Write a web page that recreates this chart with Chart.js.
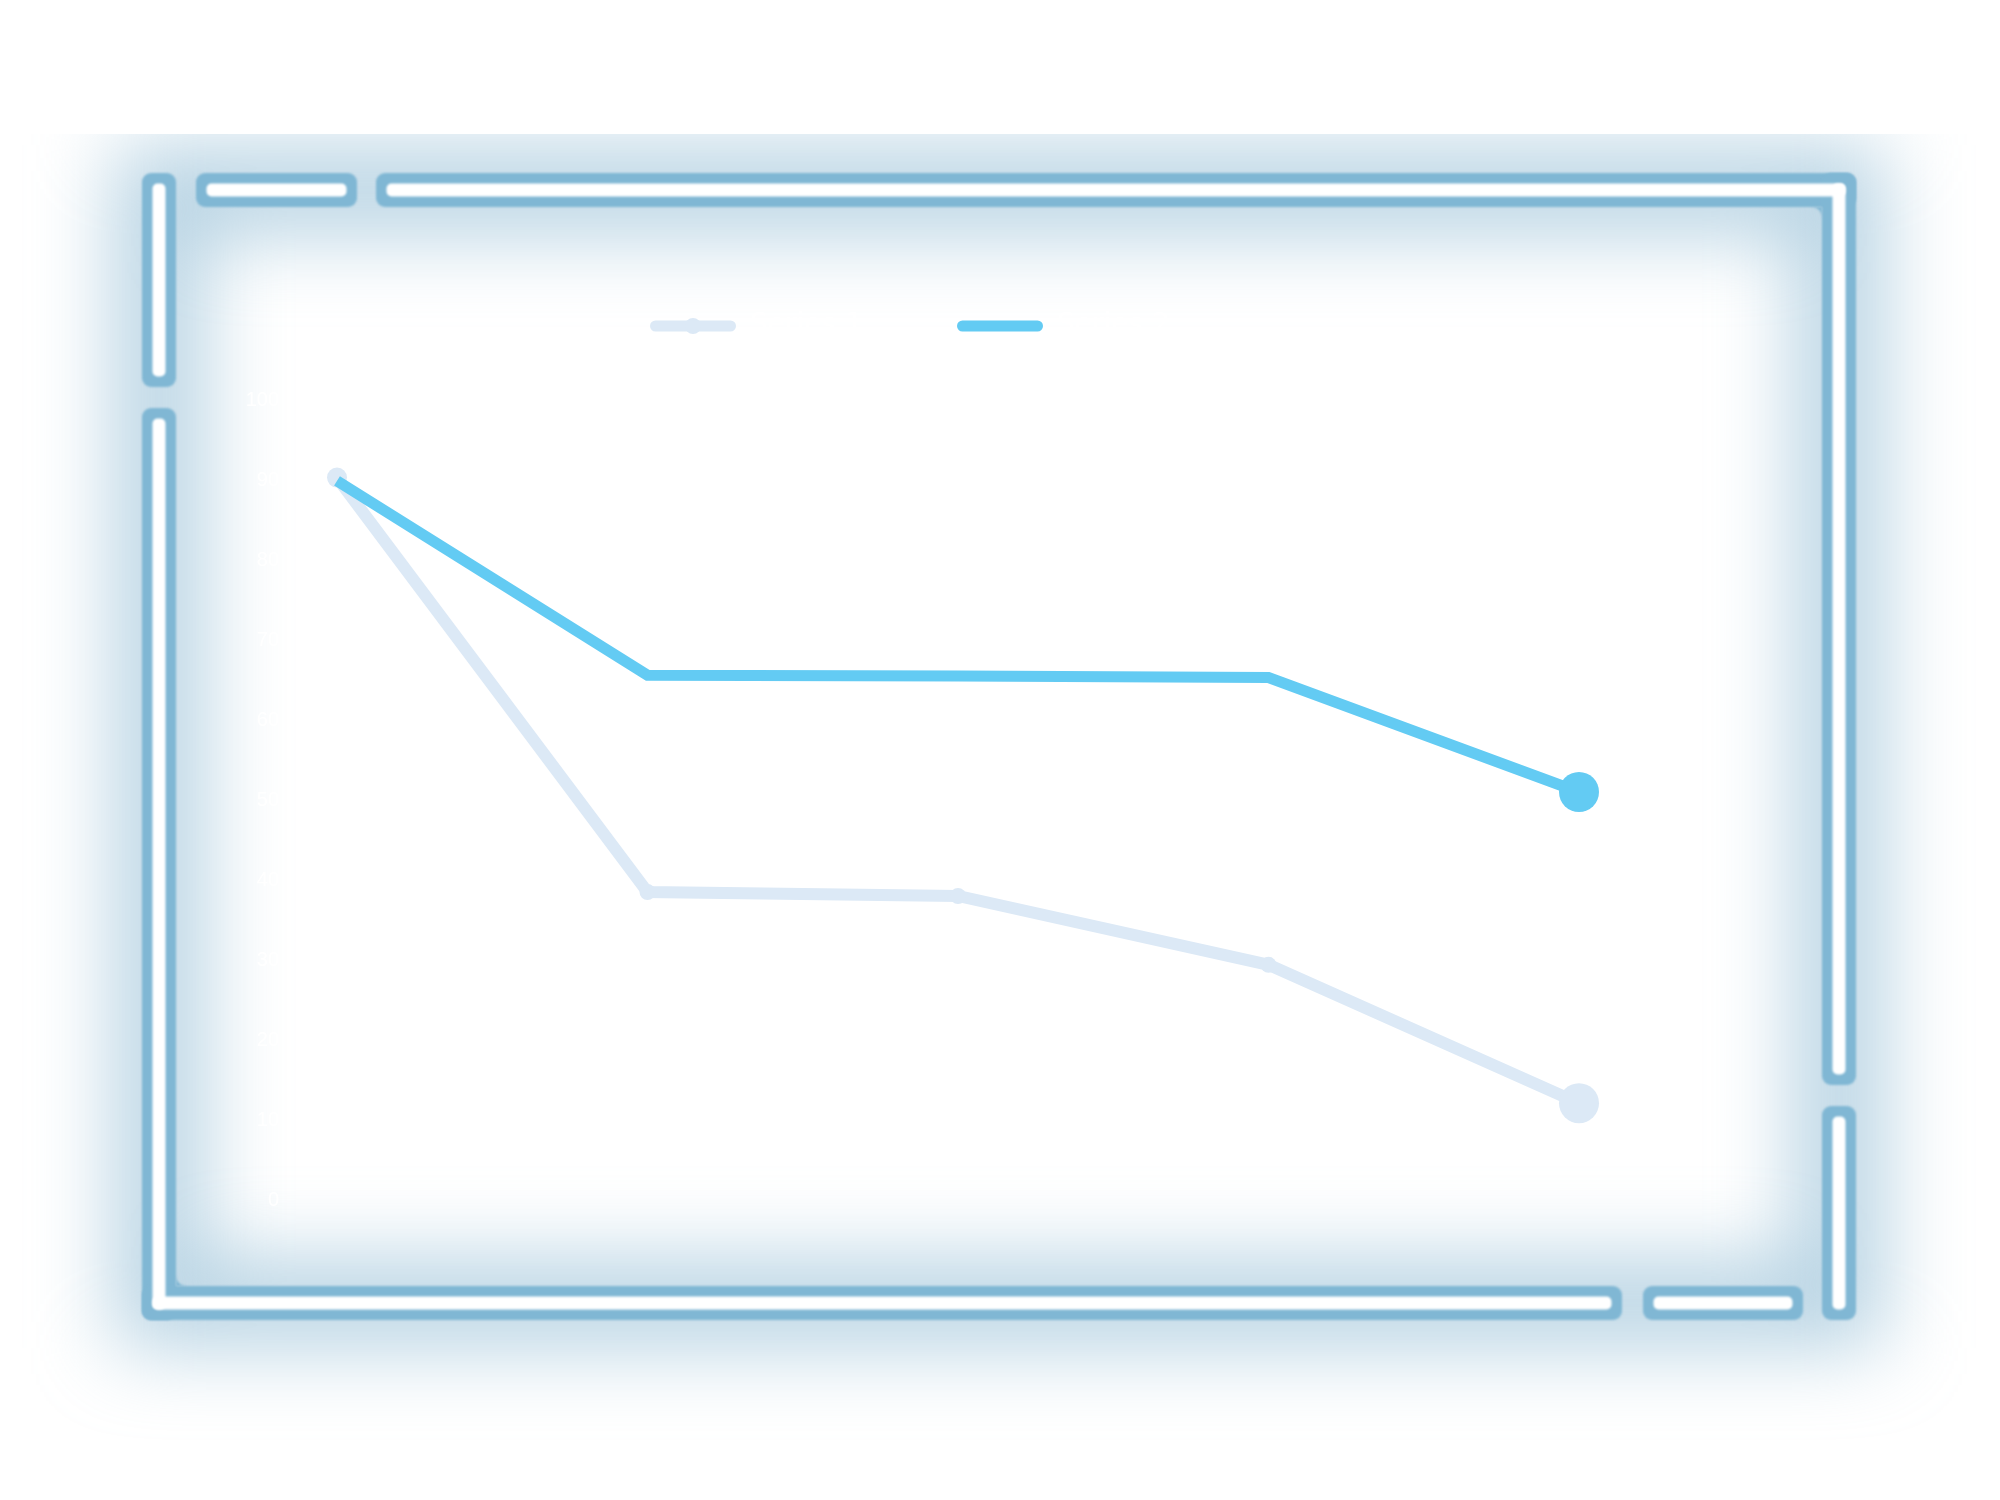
<!DOCTYPE html>
<html>
<head>
<meta charset="utf-8">
<style>
  html, body { margin: 0; padding: 0; background: #ffffff; }
  #wrap { width: 2000px; height: 1500px; }
</style>
<script src="https://cdn.jsdelivr.net/npm/chart.js@4/dist/chart.umd.min.js"></script>
</head>
<body>
<div id="wrap"><canvas id="c" width="2000" height="1500"></canvas></div>
<script>
// ---- data ----
const categories = ['1', '2', '3', '4', '5'];
const seriesNames = ['Series 1', 'Series 2'];
const seriesA = [90.3, 38.5, 38.0, 29.4, 12.1];
const seriesB = [89.9, 65.6, 65.5, 65.3, 51.0];
const yMin = 0;
const yMax = 100;

const colorA = '#dce9f6';
const colorB = '#63cbf3';
const frameBlue = '#80b7d4';

function rr(ctx, x, y, w, h, r) {
  ctx.beginPath();
  ctx.roundRect(x, y, w, h, r);
  ctx.fill();
}

const framePlugin = {
  id: 'neonFrame',
  beforeDraw(chart) {
    const ctx = chart.ctx;
    ctx.save();
    ctx.fillStyle = '#ffffff';
    ctx.fillRect(0, 0, chart.width, chart.height);
    // soft glow
    ctx.beginPath();
    ctx.rect(0, 134, chart.width, chart.height - 134);
    ctx.clip();
    ctx.filter = 'blur(40px)';
    ctx.strokeStyle = 'rgba(135,182,208,0.6)';
    ctx.lineWidth = 90;
    ctx.strokeRect(159, 190, 1680, 1113);
    ctx.restore();

    // frame pieces: [x, y, w, h]
    const pieces = [
      [[142, 173, 34, 214]],
      [[196, 173, 161, 34]],
      [[376, 173, 1480, 34], [1822, 173, 34, 912]],
      [[1822, 1106, 34, 214]],
      [[1643, 1286, 160, 34]],
      [[142, 408, 34, 912], [142, 1286, 1480, 34]]
    ];
    ctx.save();
    ctx.filter = 'blur(0.8px)';
    ctx.fillStyle = frameBlue;
    pieces.forEach(p => p.forEach(r => rr(ctx, r[0], r[1], r[2], r[3], 9)));
    // small concave fillets at the inner corners of the L pieces
    ctx.beginPath();
    ctx.moveTo(1812, 207); ctx.lineTo(1822, 207); ctx.lineTo(1822, 217);
    ctx.arc(1812, 217, 10, 0, -Math.PI / 2, true);
    ctx.closePath(); ctx.fill();
    ctx.beginPath();
    ctx.moveTo(176, 1276); ctx.lineTo(176, 1286); ctx.lineTo(186, 1286);
    ctx.arc(186, 1276, 10, Math.PI / 2, Math.PI, false);
    ctx.closePath(); ctx.fill();
    ctx.fillStyle = '#ffffff';
    const ins = 10.5;
    pieces.forEach(p => p.forEach(r => rr(ctx, r[0] + ins, r[1] + ins, r[2] - 2 * ins, r[3] - 2 * ins, 5)));
    ctx.restore();
  },
  afterDraw(chart) {
    // legend
    const ctx = chart.ctx;
    ctx.save();
    const startX = 650, y = 326, step = 307, iw = 86;
    chart.data.datasets.forEach((ds, i) => {
      const x = startX + i * step;
      ctx.strokeStyle = ds.borderColor;
      ctx.lineWidth = 11;
      ctx.lineCap = 'round';
      ctx.beginPath();
      ctx.moveTo(x + 5.5, y);
      ctx.lineTo(x + iw - 5.5, y);
      ctx.stroke();
      if (ds.legendSymbol) {
        ctx.fillStyle = ds.borderColor;
        ctx.beginPath();
        ctx.arc(x + iw / 2, y, 8, 0, Math.PI * 2);
        ctx.fill();
      }
      ctx.fillStyle = '#ffffff';
      ctx.font = '28px "DejaVu Sans", sans-serif';
      ctx.textBaseline = 'middle';
      ctx.textAlign = 'left';
      ctx.fillText(ds.label, x + iw + 14, y);
    });
    ctx.restore();
  }
};

new Chart(document.getElementById('c'), {
  type: 'line',
  data: {
    labels: categories,
    datasets: [
      {
        label: seriesNames[0],
        data: seriesA,
        borderColor: colorA,
        backgroundColor: colorA,
        pointBackgroundColor: colorA,
        pointBorderWidth: 0,
        borderWidth: 12,
        pointRadius: [10, 8, 8, 8, 20],
        tension: 0,
        order: 1,
        clip: false,
        legendSymbol: true
      },
      {
        label: seriesNames[1],
        data: seriesB,
        borderColor: colorB,
        backgroundColor: colorB,
        pointBackgroundColor: colorB,
        pointBorderWidth: 0,
        borderWidth: 11,
        pointRadius: [0, 0, 0, 0, 20],
        tension: 0,
        order: 0,
        clip: false,
        legendSymbol: false
      }
    ]
  },
  options: {
    responsive: false,
    animation: false,
    layout: { padding: { top: 400, left: 0, right: 421, bottom: 0 } },
    plugins: {
      legend: { display: false },
      tooltip: { enabled: false }
    },
    scales: {
      x: {
        offset: false,
        grid: { display: false },
        border: { display: false },
        ticks: { display: false, color: '#ffffff', font: { size: 20 } },
        afterFit(scale) { scale.height = 300; }
      },
      y: {
        min: yMin,
        max: yMax,
        grid: { display: false },
        border: { display: false },
        ticks: { color: '#ffffff', font: { size: 20 }, padding: 50 },
        afterFit(scale) { scale.width = 337; }
      }
    }
  },
  plugins: [framePlugin]
});
</script>
</body>
</html>
